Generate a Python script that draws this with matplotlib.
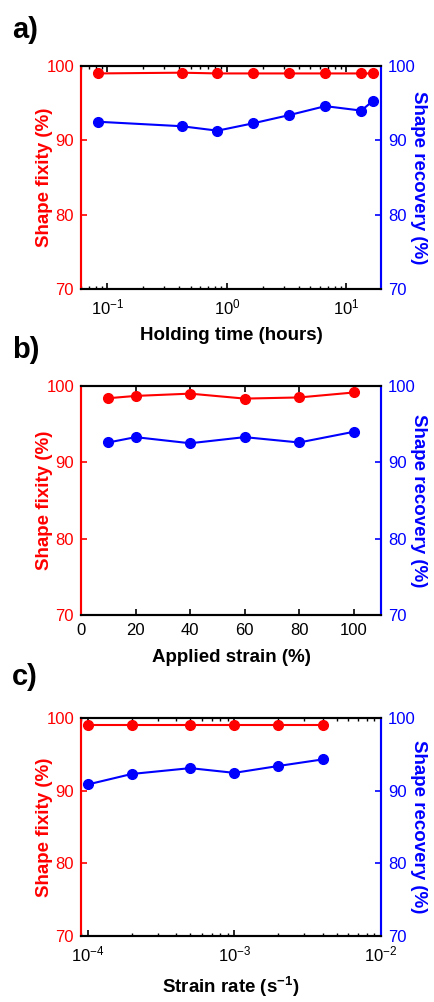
import matplotlib
matplotlib.use("Agg")
import matplotlib.pyplot as plt
from matplotlib.ticker import LogLocator, FixedLocator, NullFormatter

plt.rcParams['font.family'] = ['Liberation Sans', 'DejaVu Sans']
plt.rcParams['mathtext.fontset'] = 'custom'
plt.rcParams['mathtext.rm'] = 'Liberation Sans'
plt.rcParams['mathtext.it'] = 'Liberation Sans:italic'
plt.rcParams['mathtext.bf'] = 'Liberation Sans:bold'
plt.rcParams['mathtext.default'] = 'regular'

# (a) holding time series
hold_time_h = [0.0833, 0.4167, 0.8333, 1.667, 3.333, 6.667, 13.33, 16.67]
hold_fixity = [99.0, 99.1, 99.0, 99.0, 99.0, 99.0, 99.0, 99.0]
hold_recovery = [92.5, 91.9, 91.3, 92.3, 93.4, 94.6, 94.0, 95.3]

# (b) applied strain series
strain_pct = [10, 20, 40, 60, 80, 100]
strain_fixity = [98.4, 98.7, 99.0, 98.35, 98.5, 99.15]
strain_recovery = [92.6, 93.3, 92.5, 93.3, 92.6, 94.0]

# (c) strain rate series
rate_per_s = [1e-4, 2e-4, 5e-4, 1e-3, 2e-3, 4e-3]
rate_fixity = [99.0, 99.0, 99.0, 99.0, 99.0, 99.0]
rate_recovery = [90.85, 92.3, 93.1, 92.45, 93.4, 94.3]

y_ticks = [70, 80, 90, 100]
panel_letters = ['a)', 'b)', 'c)']

RED = '#ff0000'
BLUE = '#0000ff'
W, H = 435, 1002
LEFT_PX, RIGHT_PX = 81, 381

fig = plt.figure(figsize=(W / 100, H / 100), dpi=100)


def make_axes(top_px, bottom_px):
    return fig.add_axes([LEFT_PX / W, 1 - bottom_px / H,
                         (RIGHT_PX - LEFT_PX) / W, (bottom_px - top_px) / H])


def style(ax, ax2, logx, xlabel, top_px, bottom_px, xlabel_px):
    for a in (ax, ax2):
        for s in a.spines.values():
            s.set_linewidth(1.5)
        a.spines['top'].set_color('black')
        a.spines['bottom'].set_color('black')
        a.spines['left'].set_color(RED)
        a.spines['right'].set_color(BLUE)
    ax.set_ylim(70, 100)
    ax2.set_ylim(70, 100)
    ax.yaxis.set_major_locator(FixedLocator(y_ticks))
    ax2.yaxis.set_major_locator(FixedLocator(y_ticks))
    ax.tick_params(axis='y', colors=RED, labelcolor=RED, direction='in',
                   length=4, width=1.2, labelsize=12, pad=5)
    ax2.tick_params(axis='y', colors=BLUE, labelcolor=BLUE, direction='in',
                    length=4, width=1.2, labelsize=12, pad=5)
    ax.tick_params(axis='x', which='major', direction='in', top=True,
                   length=4, width=1.2, labelsize=12, pad=6)
    ax.tick_params(axis='x', which='minor', direction='in', top=True,
                   length=2.5, width=1.0)
    if logx:
        ax.xaxis.set_major_locator(LogLocator(base=10, numticks=10))
        ax.xaxis.set_minor_locator(LogLocator(base=10, subs=range(2, 10), numticks=20))
        ax.xaxis.set_minor_formatter(NullFormatter())

    width = RIGHT_PX - LEFT_PX
    height = bottom_px - top_px
    ax.set_ylabel('Shape fixity (%)', color=RED, fontsize=13.5, fontweight='bold')
    ax.yaxis.set_label_coords((44.5 - LEFT_PX) / width, 0.5)
    ax.yaxis.label.set_va('center')
    ax.yaxis.label.set_ha('center')

    ax2.set_ylabel('Shape recovery (%)', color=BLUE, fontsize=13.5,
                   fontweight='bold', rotation=270)
    ax2.yaxis.set_label_coords((418 - LEFT_PX) / width, 0.5)
    ax2.yaxis.label.set_va('center')
    ax2.yaxis.label.set_ha('center')

    ax.set_xlabel(xlabel, fontsize=13.5, fontweight='bold')
    ax.xaxis.set_label_coords(0.5, -(xlabel_px - bottom_px) / height)
    ax.xaxis.label.set_va('center')


def plot_pair(ax, ax2, x, fix, rec):
    ax2.plot(x, rec, '-o', color=BLUE, lw=1.5, ms=7, clip_on=False, zorder=3)
    ax.plot(x, fix, '-o', color=RED, lw=1.5, ms=7, clip_on=False, zorder=3)


# panel a
axa = make_axes(66, 289)
axa.set_xscale('log')
axa2 = axa.twinx()
plot_pair(axa, axa2, hold_time_h, hold_fixity, hold_recovery)
axa.set_xlim(0.06, 19.5)
style(axa, axa2, True, 'Holding time (hours)', 66, 289, 335)

# panel b
axb = make_axes(386, 615)
axb2 = axb.twinx()
plot_pair(axb, axb2, strain_pct, strain_fixity, strain_recovery)
axb.set_xlim(0, 110)
axb.set_xticks([0, 20, 40, 60, 80, 100])
style(axb, axb2, False, 'Applied strain (%)', 386, 615, 657)

# panel c
axc = make_axes(718, 936)
axc.set_xscale('log')
axc2 = axc.twinx()
plot_pair(axc, axc2, rate_per_s, rate_fixity, rate_recovery)
axc.set_xlim(0.9e-4, 1e-2)
style(axc, axc2, True, r'Strain rate (s$^{\mathbf{-1}}$)', 718, 936, 987)

# panel letters
for letter, y_px in zip(panel_letters, [30, 350, 677]):
    fig.text(12 / W, 1 - y_px / H, letter, fontsize=21, fontweight='bold',
             ha='left', va='center')

fig.savefig('out.png', dpi=100)
